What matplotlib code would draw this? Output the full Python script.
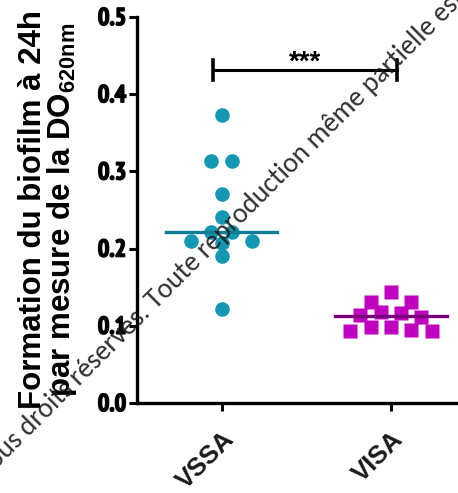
import matplotlib

matplotlib.use('Agg')
import matplotlib.pyplot as plt
import matplotlib.patheffects as pe
import numpy as np
from matplotlib import font_manager
from matplotlib.transforms import ScaledTranslation

# ----- data --------------------------------------------------------------
groups = ['VSSA', 'VISA']
vssa = [0.373, 0.313, 0.313, 0.271, 0.241, 0.221, 0.221, 0.210, 0.210, 0.207, 0.190, 0.122]
visa = [0.144, 0.131, 0.131, 0.118, 0.116, 0.114, 0.112, 0.099, 0.098, 0.094, 0.093, 0.093]
y_ticks = [0.0, 0.1, 0.2, 0.3, 0.4, 0.5]
signif = '***'
ylabel = 'Formation du biofilm à 24h\npar mesure de la DO$_{620nm}$'
watermark = 'Tous droits réservés. Toute reproduction même partielle est interdite.'

# ----- style -------------------------------------------------------------
TEAL, TEAL_DARK = '#1497b2', '#0f7d93'
MAGENTA, PURPLE = '#bf00bf', '#7a007a'
fonts = font_manager.fontManager.ttflist
bold_names = {f.name for f in fonts if f.weight in (700, 'bold')}
all_names = {f.name for f in fonts}


def first_font(names, pool):
    return next((n for n in names if n in pool), 'Liberation Sans')


# condensed bold for the tick numbers (the reference uses an Arial-Narrow look)
NARROW = first_font(['Liberation Sans Narrow', 'Archivo Narrow', 'PT Sans Narrow',
                     'Roboto Condensed', 'Fira Sans Condensed', 'IBM Plex Sans Condensed',
                     'Encode Sans Condensed', 'Asap Condensed', 'Sofia Sans Condensed',
                     'Pragati Narrow'], bold_names)
WATER = first_font(['Carlito', 'Lato'], all_names)

plt.rcParams['font.family'] = ['Liberation Sans', 'DejaVu Sans']
plt.rcParams['mathtext.fontset'] = 'custom'
plt.rcParams['mathtext.rm'] = 'Liberation Sans:bold'
plt.rcParams['mathtext.default'] = 'rm'

ROW_TOL = 0.0135    # values closer than this share a row in the scatter
STEP = 0.12         # horizontal slot width (category units)


def swarm(values):
    """GraphPad-like column scatter: rows of near-equal values spread
    symmetrically, the highest values of a row nearest the centre."""
    vals = sorted(values, reverse=True)
    rows, cur = [], [vals[0]]
    for v in vals[1:]:
        if cur[0] - v < ROW_TOL:
            cur.append(v)
        else:
            rows.append(cur)
            cur = [v]
    rows.append(cur)
    xs, ys = [], []
    for row in rows:
        n = len(row)
        slots = sorted(((np.arange(n) - (n - 1) / 2) * STEP), key=lambda s: (abs(s), s))
        xs += slots
        ys += row
    return np.array(xs), np.array(ys)


fig = plt.figure(figsize=(4.58, 4.93), dpi=100)
ax = fig.add_axes([0.300, 0.1826, 0.700, 0.783])

for i, (vals, marker, col, lcol) in enumerate([(vssa, 'o', TEAL, TEAL_DARK),
                                               (visa, 's', MAGENTA, PURPLE)]):
    dx, yy = swarm(vals)
    ax.plot(i + dx, yy, ls='none', marker=marker, ms=10.5, mec='none', color=col, zorder=3)
    ax.plot([i - 0.33, i + 0.33], [np.median(vals)] * 2, color=lcol, lw=2.4, zorder=4)

# significance bar
bar_y = 0.431
ax.plot([-0.05, 1.035], [bar_y, bar_y], color='black', lw=2.2, clip_on=False)
for x in (-0.05, 1.035):
    ax.plot([x, x], [bar_y - 0.013, bar_y + 0.013], color='black', lw=2.6, clip_on=False)
ax.text(0.49, bar_y + 0.001, signif, ha='center', va='baseline', fontsize=20, fontweight='bold')

ax.set_xlim(-0.497, 1.396)
ax.set_ylim(0, 0.5)
ax.set_yticks(y_ticks)
ax.set_yticklabels([f'{t:.1f}' for t in y_ticks], fontsize=17.5, fontweight='bold', family=NARROW)
heavy = [pe.withStroke(linewidth=1.1, foreground='black')]
for lab in ax.get_yticklabels():
    lab.set_path_effects(heavy)
ax.set_xticks(range(len(groups)))
ax.set_xticklabels(groups, rotation=45, ha='right', rotation_mode='anchor',
                   fontsize=18.5, fontweight='bold', color='#1a1a1a')
shift = ScaledTranslation(-4 / 72, 0, fig.dpi_scale_trans)
for lab in ax.get_xticklabels():
    lab.set_transform(lab.get_transform() + shift)
ax.tick_params(axis='both', length=6, width=2.2, direction='out')
ax.tick_params(axis='y', pad=2)
ax.tick_params(axis='x', pad=11)
for side in ('top', 'right'):
    ax.spines[side].set_visible(False)
for side in ('left', 'bottom'):
    ax.spines[side].set_linewidth(2.4)

ax.set_ylabel(ylabel, fontsize=22.5, fontweight='bold', linespacing=0.85)
ax.yaxis.set_label_coords(-0.183, 0.5)

fig.text(-0.0306, 0.0284, watermark, rotation=45, rotation_mode='anchor',
         ha='left', va='baseline', fontsize=20, family=WATER, color='#1a1a1a', alpha=0.9)

fig.savefig('out.png', dpi=100)
